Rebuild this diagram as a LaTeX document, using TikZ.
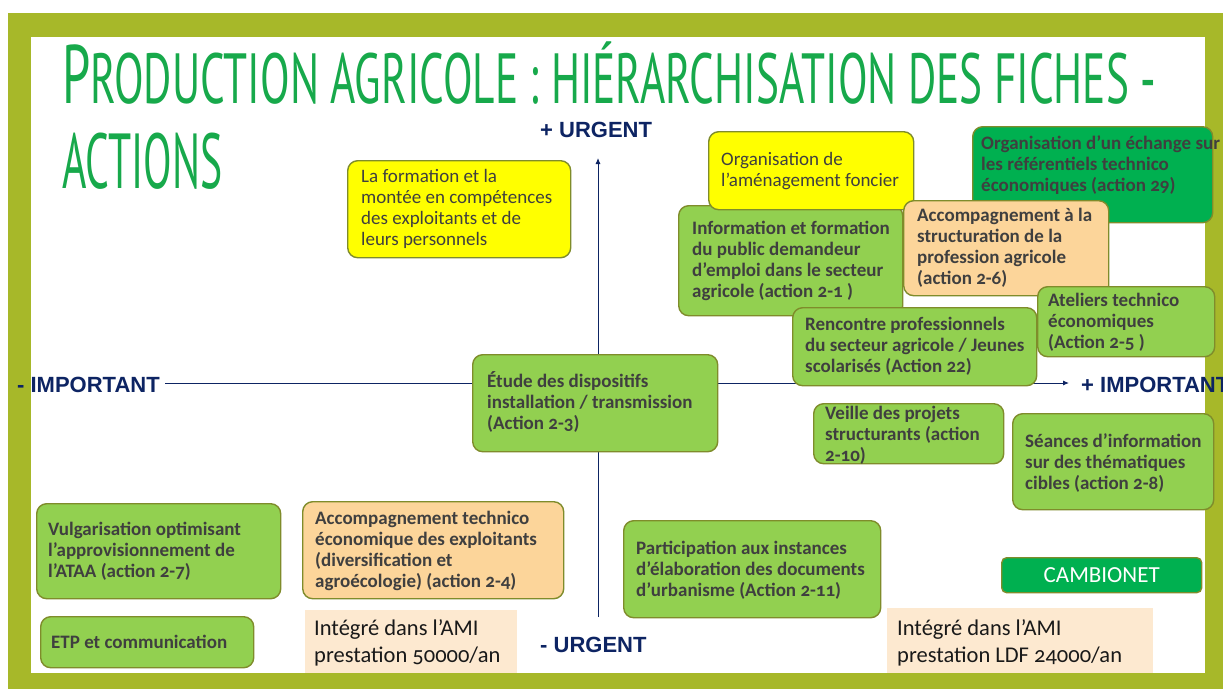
\documentclass[tikz,border=0pt]{standalone}
\usepackage{fontspec}
\usepackage{graphicx}
\setmainfont{Carlito}[Numbers=OldStyle]
\newfontfamily\axisfont{Liberation Sans}
\newfontfamily\titlefont{PT Sans}
\usetikzlibrary{arrows.meta}
\definecolor{olivefr}{HTML}{A7B829}
\definecolor{titleg}{HTML}{17A94B}
\definecolor{navy}{HTML}{0D2463}
\definecolor{bordc}{HTML}{7F8C2B}
\definecolor{lgreen}{HTML}{92D050}
\definecolor{dkgreen}{HTML}{00B050}
\definecolor{yel}{HTML}{FFFF00}
\definecolor{peach}{HTML}{FCD59A}
\definecolor{amif}{HTML}{FDE9D0}
\definecolor{txtc}{HTML}{3F3F3F}
\newcommand\mlines[1]{\vtop{\baselineskip=21.3pt\lineskiplimit=-50pt\lineskip=0pt\halign{##\hfil\cr#1\crcr}}}
\newcommand\amlines[1]{\vtop{\baselineskip=27.5pt\lineskiplimit=-50pt\lineskip=0pt\halign{##\hfil\cr#1\crcr}}}
\tikzset{
  boxbase/.style={draw=bordc, line width=1.4pt, rounded corners=10pt, inner sep=0pt, anchor=north west},
  gbox/.style={boxbase, fill=lgreen},
  ybox/.style={boxbase, fill=yel},
  pbox/.style={boxbase, fill=peach},
  dbox/.style={boxbase, fill=dkgreen},
  abox/.style={draw=none, fill=amif, inner sep=0pt, anchor=north west},
  btxt/.style={inner sep=0pt, anchor=base west, text=txtc, font=\fontsize{19pt}{21.3pt}\selectfont\bfseries},
  rtxt/.style={inner sep=0pt, anchor=base west, text=txtc, font=\fontsize{19pt}{21.3pt}\selectfont},
  atxt/.style={inner sep=0pt, anchor=base west, text=black!90, font=\fontsize{22.5pt}{27.5pt}\selectfont},
  axlab/.style={inner sep=0pt, anchor=base west, text=navy, font=\axisfont\bfseries\fontsize{22pt}{24pt}\selectfont},
  axline/.style={draw=navy, line width=0.9pt, -{Latex[length=6pt,width=5pt]}},
}
\begin{document}
\begin{tikzpicture}[x=1pt,y=-1pt]
\useasboundingbox (0,0) rectangle (1223,689);
\fill[white] (0,0) rectangle (1223,689);
\fill[olivefr] (8,13) rectangle (1223,689);
\fill[white] (31,37) rectangle (1205,673);

% title
\node[anchor=base west, inner sep=0pt, text=titleg] (title1) at (62,103)
  {\resizebox{1094pt}{\height}{\titlefont\fontsize{83pt}{90pt}\selectfont P\fontsize{71pt}{80pt}\selectfont RODUCTION AGRICOLE : HIÉRARCHISATION DES FICHES -}};
\node[anchor=base west, inner sep=0pt, text=titleg] (title2) at (62,188)
  {\resizebox{160pt}{\height}{\titlefont\fontsize{78pt}{80pt}\selectfont ACTIONS}};

% axes
\coordinate (vbot) at (598,617);
\coordinate (vtop) at (598,158);
\coordinate (hleft) at (165,383);
\coordinate (hright) at (1069,383);
\draw[axline] (vbot) -- (vtop);
\draw[axline] (hleft) -- (hright);
\node[axlab] (purg) at (540,137) {+ URGENT};
\node[axlab] (murg) at (540,652) {- URGENT};
\node[axlab] (mimp) at (17,392) {- IMPORTANT};
\node[axlab] (pimp) at (1081,392) {+ IMPORTANT};

% boxes
\node[dbox, minimum width=240pt, minimum height=96pt] (dg) at (972,126) {};
\node[btxt] (dgt) at (981,149) {\mlines{Organisation d’un échange sur\cr les référentiels technico\cr économiques (action 29)}};

\node[gbox, minimum width=224pt, minimum height=110pt] (b4) at (678,205) {};
\node[btxt] (b4t) at (692,234) {\mlines{Information et formation\cr du public demandeur\cr d’emploi dans le secteur\cr agricole (action 2-1 )}};

\node[ybox, minimum width=223pt, minimum height=97pt] (yl1) at (347,160) {};
\node[rtxt] (yl1t) at (361,182) {\mlines{La formation et la\cr montée en compétences\cr des exploitants et de\cr leurs personnels}};

\node[ybox, minimum width=205pt, minimum height=78pt] (yl2) at (708,131) {};
\node[rtxt] (yl2t) at (721,165) {\mlines{Organisation de\cr l’aménagement foncier}};

\node[pbox, minimum width=205pt, minimum height=95pt] (pe1) at (903,200) {};
\node[btxt] (pe1t) at (917,221) {\mlines{Accompagnement à la\cr structuration de la\cr profession agricole\cr (action 2-6)}};

\node[gbox, minimum width=177pt, minimum height=70pt] (b6) at (1037,286) {};
\node[btxt] (b6t) at (1048,306) {\mlines{Ateliers technico\cr économiques\cr (Action 2-5 )}};

\node[gbox, minimum width=244pt, minimum height=78pt] (b7) at (792,307) {};
\node[btxt] (b7t) at (805,330) {\mlines{Rencontre professionnels\cr du secteur agricole / Jeunes\cr scolarisés (Action 22)}};

\node[gbox, minimum width=245pt, minimum height=97pt] (b8) at (472,354) {};
\node[btxt] (b8t) at (487,387) {\mlines{Étude des dispositifs\cr installation / transmission\cr (Action 2-3)}};

\node[gbox, minimum width=190pt, minimum height=60pt] (b9) at (813,403) {};
\node[btxt] (b9t) at (825,419) {\mlines{Veille des projets\cr structurants (action\cr 2-10)}};

\node[gbox, minimum width=201pt, minimum height=96pt] (b10) at (1012,413) {};
\node[btxt] (b10t) at (1025,447) {\mlines{Séances d’information\cr sur des thématiques\cr cibles (action 2-8)}};

\node[gbox, minimum width=244pt, minimum height=95pt] (b11) at (36,503) {};
\node[btxt] (b11t) at (48,535) {\mlines{Vulgarisation optimisant\cr l’approvisionnement de\cr l’ATAA (action 2-7)}};

\node[pbox, minimum width=261pt, minimum height=97pt] (pe2) at (302,501) {};
\node[btxt] (pe2t) at (315,524) {\mlines{Accompagnement technico\cr économique des exploitants\cr (diversification et\cr agroécologie) (action 2-4)}};

\node[gbox, minimum width=257pt, minimum height=97pt] (b13) at (623,520) {};
\node[btxt] (b13t) at (636,554) {\mlines{Participation aux instances\cr d’élaboration des documents\cr d’urbanisme (Action 2-11)}};

\node[gbox, minimum width=213pt, minimum height=51pt] (b14) at (40,616) {};
\node[btxt] (b14t) at (51,648) {ETP et communication};

\node[abox, minimum width=212pt, minimum height=63pt] (am1) at (305,610) {};
\node[atxt] (am1t) at (314,635) {\amlines{Intégré dans l’AMI\cr prestation 50000/an}};

\node[abox, minimum width=266pt, minimum height=65pt] (am2) at (887,608) {};
\node[atxt] (am2t) at (897,635) {\amlines{Intégré dans l’AMI\cr prestation LDF 24000/an}};

\node[dbox, minimum width=200pt, minimum height=35pt, rounded corners=5pt] (cb) at (1001,557) {};
\node[inner sep=0pt, text=white, font=\fontsize{23pt}{25pt}\selectfont] (cbt) at (cb.center) {CAMBIONET};
\end{tikzpicture}
\end{document}
